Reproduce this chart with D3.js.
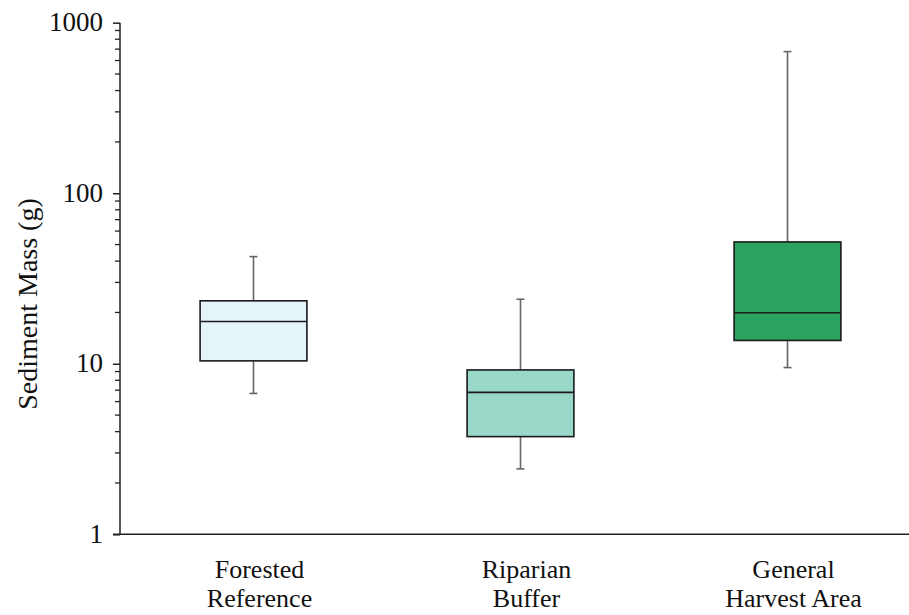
<!DOCTYPE html>
<html>
<head>
<meta charset="utf-8">
<script src="https://cdn.jsdelivr.net/npm/d3@7"></script>
<style>
  html, body { margin: 0; padding: 0; background: #fff; }
  svg { display: block; }
  text { font-family: "Liberation Serif", "Times New Roman", serif; fill: #111; }
</style>
</head>
<body>
<svg id="chart" width="909" height="615"></svg>
<script>
// Sediment mass by site type (box-and-whisker summaries)
const categories = [["Forested", "Reference"], ["Riparian", "Buffer"], ["General", "Harvest Area"]];
const whiskerLow = [6.7, 2.42, 9.5];
const quartileLow = [10.4, 3.74, 13.7];
const medians = [17.7, 6.8, 19.9];
const quartileHigh = [23.4, 9.2, 51.8];
const whiskerHigh = [42.5, 23.9, 677];
const fills = ["#e5f4f9", "#99d8c9", "#2ca25f"];
const yTicks = [1, 10, 100, 1000];

const svg = d3.select("#chart");
const plotLeft = 120, plotRight = 921, plotTop = 22.7, plotBottom = 534.3;

const x = d3.scalePoint()
  .domain(d3.range(categories.length))
  .range([plotLeft, plotRight])
  .padding(0.5);
const boxW = x.step() * 0.4;

const y = d3.scaleLog().domain([1, 1000]).range([plotBottom, plotTop]);

// minor ticks 2..9 within each decade
const minor = [];
for (let d = 1; d < 1000; d *= 10) for (let k = 2; k <= 9; k++) minor.push(d * k);
svg.append("g").selectAll("line").data(minor).join("line")
  .attr("x1", plotLeft - 5).attr("x2", plotLeft)
  .attr("y1", d => y(d)).attr("y2", d => y(d))
  .attr("stroke", "#222").attr("stroke-width", 1.3);

// y axis with major ticks
const yAxis = d3.axisLeft(y).tickValues(yTicks).tickFormat(d3.format("d")).tickSize(7).tickPadding(10);
const gy = svg.append("g").attr("transform", `translate(${plotLeft},0)`).call(yAxis);
gy.select(".domain").attr("stroke", "#222").attr("stroke-width", 1.5).attr("d", `M0,${plotTop}V${plotBottom}`);
gy.selectAll(".tick line").attr("stroke", "#222").attr("stroke-width", 1.5);
gy.selectAll(".tick text").style("font-size", "27px").attr("fill", "#111").attr("dy", "0.3em");

// x axis baseline
svg.append("line")
  .attr("x1", plotLeft - 7).attr("x2", 909)
  .attr("y1", y(1)).attr("y2", y(1))
  .attr("stroke", "#222").attr("stroke-width", 1.5);

// boxes
const g = svg.append("g");
categories.forEach((c, i) => {
  const cx = x(i);
  const b = g.append("g");
  // whiskers
  b.append("line").attr("x1", cx).attr("x2", cx)
    .attr("y1", y(quartileHigh[i])).attr("y2", y(whiskerHigh[i]))
    .attr("stroke", "#666").attr("stroke-width", 1.6);
  b.append("line").attr("x1", cx).attr("x2", cx)
    .attr("y1", y(quartileLow[i])).attr("y2", y(whiskerLow[i]))
    .attr("stroke", "#666").attr("stroke-width", 1.6);
  [whiskerHigh[i], whiskerLow[i]].forEach(v => {
    b.append("line").attr("x1", cx - 4).attr("x2", cx + 4)
      .attr("y1", y(v)).attr("y2", y(v))
      .attr("stroke", "#666").attr("stroke-width", 1.6);
  });
  b.append("rect")
    .attr("x", cx - boxW / 2).attr("width", boxW)
    .attr("y", y(quartileHigh[i])).attr("height", y(quartileLow[i]) - y(quartileHigh[i]))
    .attr("fill", fills[i]).attr("stroke", "#1a1a1a").attr("stroke-width", 1.6);
  b.append("line")
    .attr("x1", cx - boxW / 2).attr("x2", cx + boxW / 2)
    .attr("y1", y(medians[i])).attr("y2", y(medians[i]))
    .attr("stroke", "#1a1a1a").attr("stroke-width", 1.6);
});

// category labels
const lbl = svg.append("g");
categories.forEach((c, i) => {
  const t = lbl.append("text")
    .attr("x", x(i) + 6).attr("y", 578)
    .attr("text-anchor", "middle").style("font-size", "26px");
  c.forEach((line, j) => {
    t.append("tspan").attr("x", x(i) + 6).attr("dy", j === 0 ? 0 : 29).text(line);
  });
});

// y axis title
svg.append("text")
  .attr("transform", "translate(37,304) rotate(-90)")
  .attr("text-anchor", "middle")
  .style("font-size", "28px")
  .text("Sediment Mass (g)");
</script>
</body>
</html>
